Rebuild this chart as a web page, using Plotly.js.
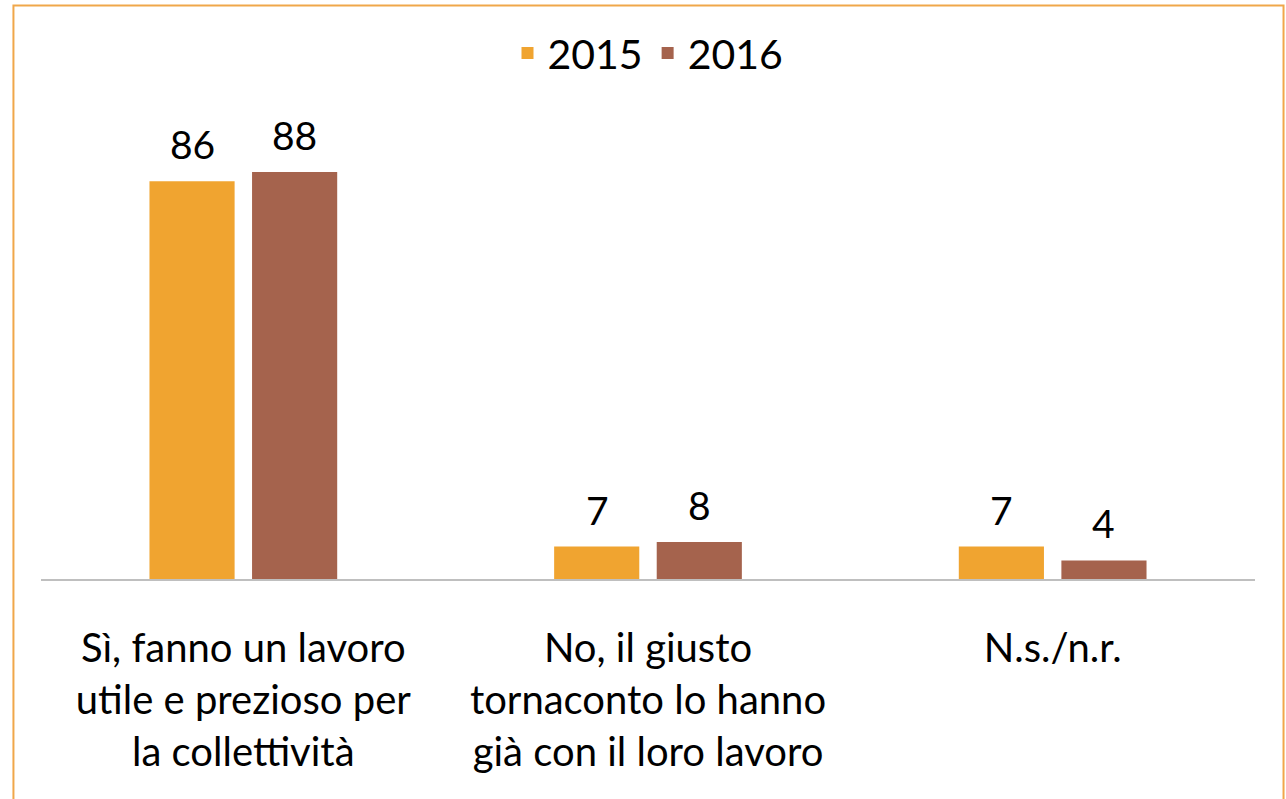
<!DOCTYPE html>
<html>
<head>
<meta charset="utf-8">
<script src="https://cdn.plot.ly/plotly-3.0.1.min.js"></script>
<style>html,body{margin:0;padding:0;background:#fff;}#chart{width:1286px;height:799px;}</style>
</head>
<body>
<div id="chart"></div>
<script>
const categories = [
  "Sì, fanno un lavoro<br>utile e prezioso per<br>la collettività",
  "No, il giusto<br>tornaconto lo hanno<br>già con il loro lavoro",
  "N.s./n.r."
];
const seriesNames = ["2015", "2016"];
const values2015 = [86, 7, 7];
const values2016 = [88, 8, 4];

const FONT = "Lato, 'Open Sans', sans-serif";
const colors = ["#F0A430", "#A5634D"];

const traces = [
  {type: "bar", name: seriesNames[0], x: categories, y: values2015, marker: {color: colors[0]}, hoverinfo: "none"},
  {type: "bar", name: seriesNames[1], x: categories, y: values2016, marker: {color: colors[1]}, hoverinfo: "none"}
];

// value labels as annotations above each bar
const annotations = [];
[values2015, values2016].forEach((vals, si) => {
  vals.forEach((v, ci) => {
    annotations.push({
      x: ci, xref: "x", y: v, yref: "y",
      xshift: si === 0 ? -51 : 51,
      yshift: 37,
      text: String(v), showarrow: false,
      font: {family: FONT, size: 39, color: "#000"}
    });
  });
});

const layout = {
  width: 1286, height: 799,
  margin: {l: 41, r: 31, t: 90, b: 220},
  paper_bgcolor: "#fff", plot_bgcolor: "#fff",
  barmode: "group", bargap: 0.493, bargroupgap: 0.17,
  showlegend: true,
  legend: {orientation: "h", x: 0.5, xanchor: "center", y: 1.075, yanchor: "middle",
           font: {family: FONT, size: 41, color: "#000"}, itemwidth: 30, traceorder: "normal"},
  xaxis: {type: "category", showline: true, linecolor: "#BFBFBF", linewidth: 2,
          ticks: "", ticklabelstandoff: 33,
          tickfont: {family: FONT, size: 40, color: "#000"}, showgrid: false, zeroline: false, fixedrange: true},
  yaxis: {range: [0, 105.7], visible: false, showgrid: false, zeroline: false, fixedrange: true},
  annotations: annotations,
  shapes: [{type: "rect", xref: "paper", yref: "paper",
            x0: -0.0227, x1: 1.0235, y0: -0.6, y1: 1.1728,
            line: {color: "#F0A74A", width: 2}, fillcolor: "rgba(0,0,0,0)", layer: "below"}]
};

Plotly.newPlot("chart", traces, layout, {displayModeBar: false, staticPlot: true});
</script>
</body>
</html>
